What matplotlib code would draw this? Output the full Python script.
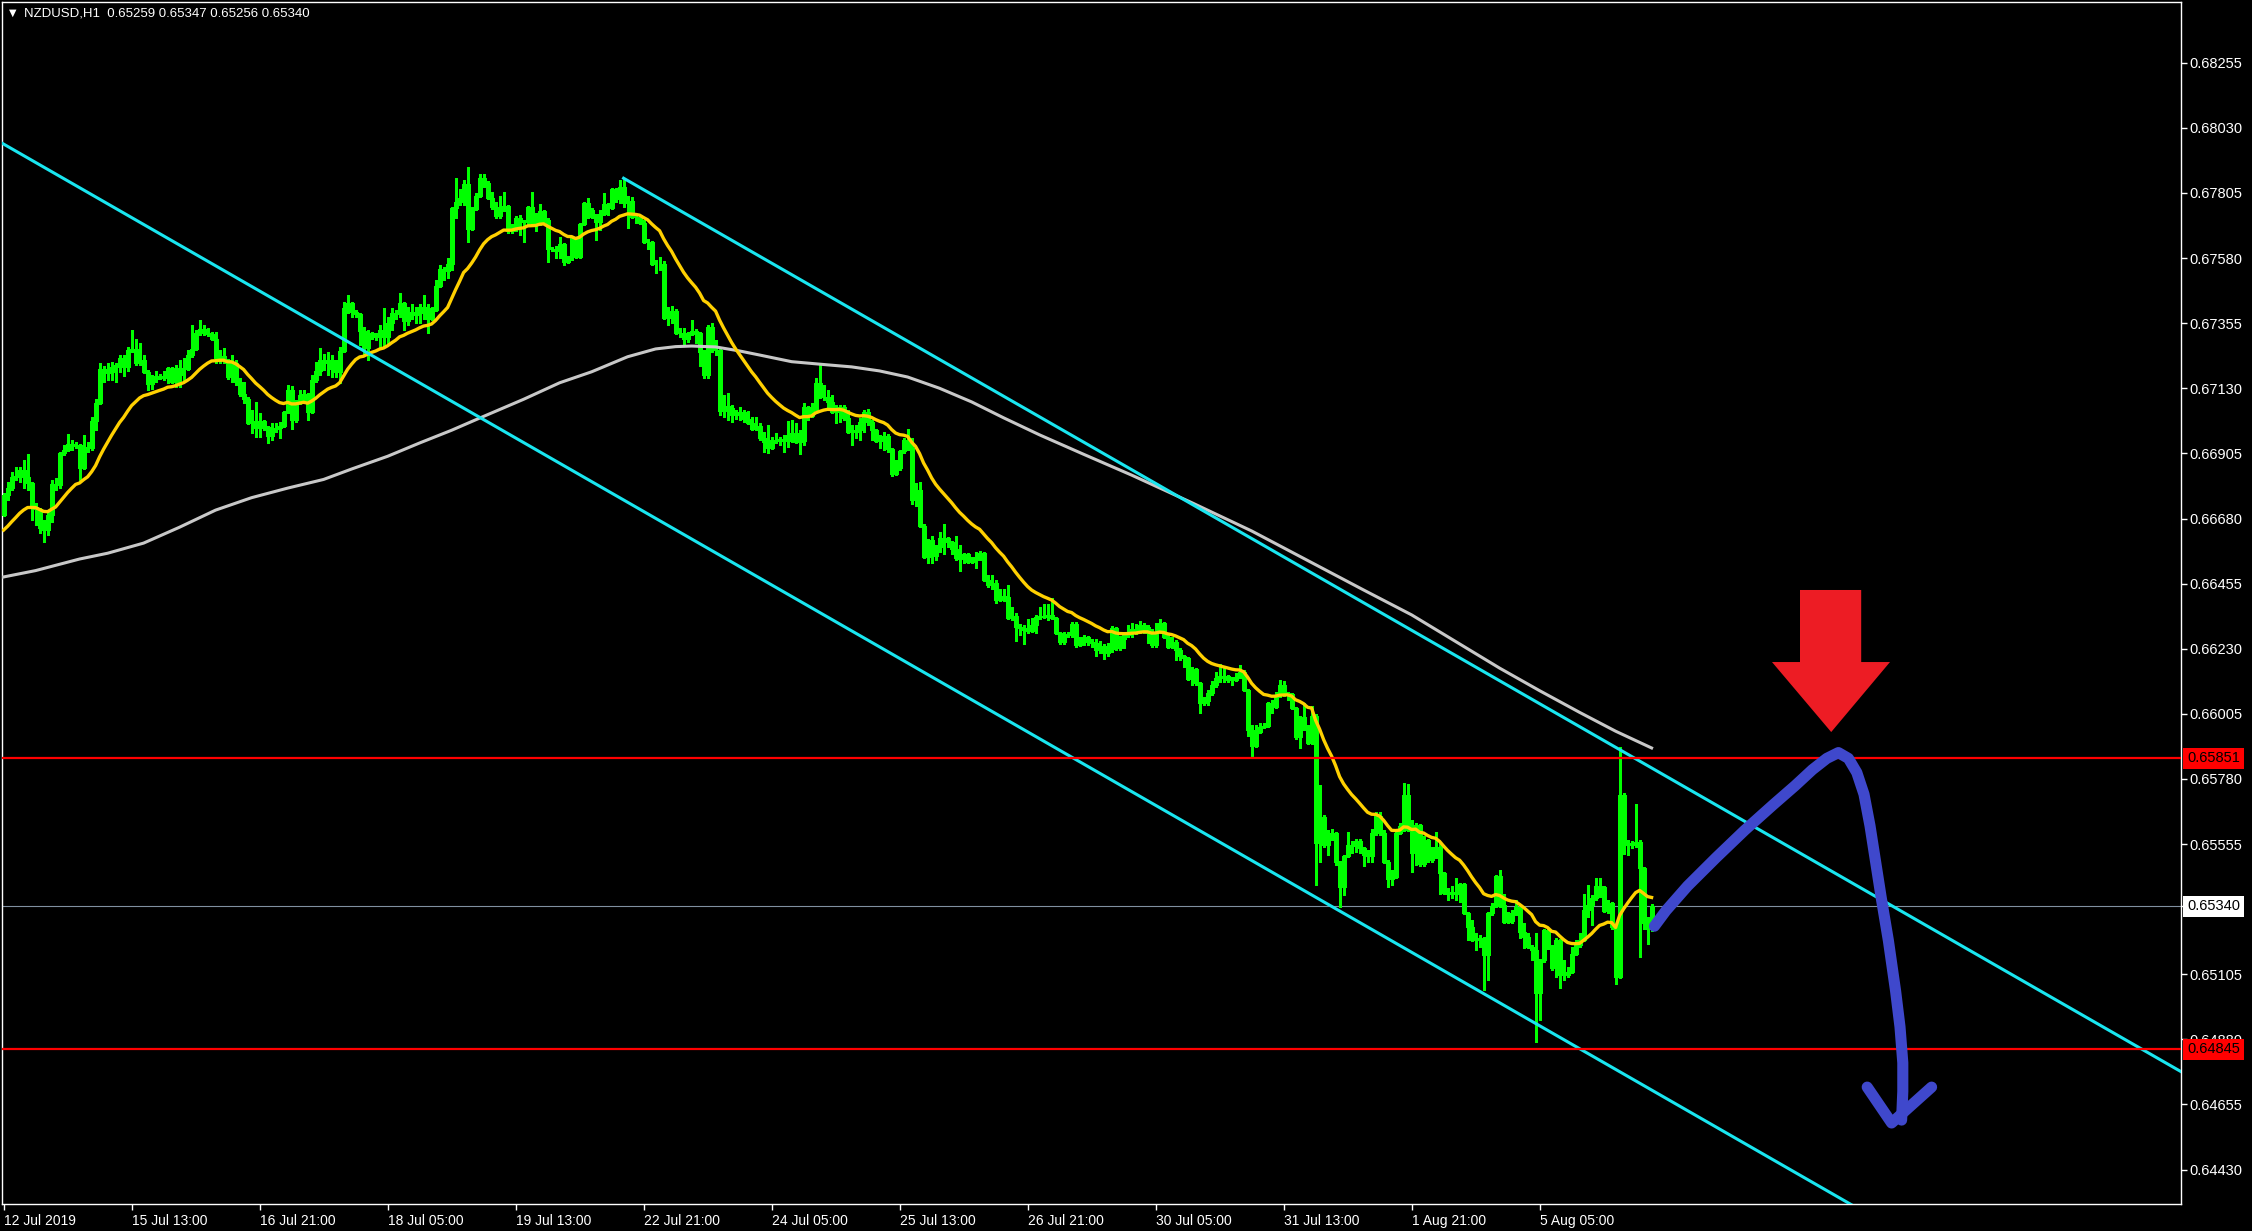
import numpy as np
import matplotlib.pyplot as plt
from matplotlib.patches import Polygon

# NZDUSD H1 candles, prices in points (1 point = 0.00001)
first_open = 66692
closes = [
    66761, 66784, 66822, 66827, 66848, 66824, 66804, 66721, 66712, 66646,
    66640, 66692, 66799, 66795, 66905, 66917, 66937, 66930, 66933, 66853,
    66928, 66922, 67017, 67078, 67195, 67184, 67187, 67205, 67209, 67236,
    67205, 67262, 67265, 67216, 67228, 67185, 67144, 67162, 67171, 67167,
    67172, 67199, 67152, 67175, 67199, 67198, 67244, 67265, 67322, 67334,
    67320, 67317, 67301, 67233, 67243, 67228, 67168, 67216, 67153, 67109,
    67092, 67009, 67018, 66992, 67017, 66997, 66965, 66988, 66994, 66999,
    67047, 67124, 67020, 67078, 67106, 67110, 67047, 67158, 67189, 67227,
    67216, 67227, 67195, 67187, 67259, 67408, 67426, 67392, 67386, 67328,
    67268, 67320, 67314, 67306, 67333, 67306, 67354, 67389, 67386, 67426,
    67363, 67394, 67383, 67389, 67412, 67406, 67371, 67400, 67485, 67541,
    67535, 67559, 67752, 67775, 67787, 67835, 67680, 67749, 67795, 67856,
    67839, 67787, 67758, 67724, 67749, 67760, 67672, 67680, 67718, 67706,
    67703, 67758, 67701, 67698, 67741, 67710, 67611, 67611, 67603, 67629,
    67565, 67583, 67649, 67583, 67698, 67769, 67746, 67723, 67706, 67732,
    67767, 67752, 67818, 67783, 67825, 67772, 67778, 67721, 67721, 67702,
    67637, 67637, 67558, 67560, 67561, 67372, 67389, 67398, 67320, 67322,
    67299, 67318, 67329, 67322, 67257, 67176, 67341, 67262, 67262, 67053,
    67069, 67063, 67038, 67046, 67049, 67023, 67009, 66990, 67001, 66957,
    66946, 66925, 66952, 66949, 66954, 66948, 66969, 66975, 66946, 66947,
    67064, 67034, 67058, 67150, 67101, 67099, 67084, 67049, 67053, 67067,
    67026, 66980, 66980, 66986, 67014, 67047, 67014, 66986, 66949, 66957,
    66966, 66919, 66833, 66853, 66914, 66951, 66922, 66744, 66780, 66655,
    66548, 66605, 66550, 66580, 66611, 66611, 66600, 66573, 66542, 66541,
    66557, 66531, 66536, 66546, 66562, 66469, 66450, 66456, 66400, 66412,
    66410, 66335, 66344, 66304, 66302, 66294, 66292, 66312, 66340, 66343,
    66340, 66348, 66337, 66283, 66254, 66281, 66277, 66317, 66243, 66262,
    66269, 66254, 66250, 66225, 66240, 66215, 66230, 66300, 66231, 66262,
    66277, 66286, 66297, 66289, 66311, 66306, 66286, 66243, 66289, 66318,
    66272, 66235, 66254, 66226, 66205, 66197, 66124, 66159, 66110, 66044,
    66051, 66076, 66105, 66128, 66136, 66136, 66122, 66122, 66131, 66151,
    66087, 65949, 65894, 65943, 65961, 65964, 66044, 66028, 66070, 66105,
    66076, 66074, 66024, 65924, 65993, 65961, 65903, 65998, 65560, 65650,
    65552, 65581, 65594, 65494, 65408, 65514, 65552, 65548, 65567, 65540,
    65517, 65514, 65592, 65652, 65592, 65494, 65433, 65440, 65594, 65617,
    65726, 65603, 65525, 65620, 65486, 65569, 65499, 65511, 65545, 65456,
    65387, 65382, 65390, 65384, 65416, 65317, 65269, 65225, 65225, 65231,
    65171, 65317, 65342, 65444, 65344, 65286, 65290, 65317, 65338, 65252,
    65232, 65200, 65188, 65041, 65154, 65257, 65200, 65125, 65223, 65102,
    65102, 65113, 65175, 65206, 65223, 65327, 65344, 65367, 65410, 65407,
    65324, 65352, 65269, 65096, 65724, 65557, 65551, 65557, 65563, 65471,
    65281, 65263, 65340,
]
highs = [
    66769, 66807, 66842, 66859, 66859, 66882, 66903, 66807, 66732, 66698,
    66675, 66704, 66813, 66819, 66911, 66934, 66972, 66953, 66945, 66905,
    66968, 66945, 67030, 67092, 67216, 67207, 67216, 67222, 67218, 67245,
    67245, 67274, 67331, 67299, 67288, 67245, 67193, 67176, 67190, 67179,
    67191, 67205, 67205, 67210, 67228, 67236, 67262, 67349, 67331, 67366,
    67349, 67337, 67326, 67326, 67262, 67268, 67228, 67245, 67228, 67164,
    67153, 67101, 67055, 67084, 67043, 67020, 66991, 67009, 67011, 67015,
    67049, 67141, 67138, 67089, 67124, 67124, 67112, 67176, 67222, 67268,
    67250, 67256, 67245, 67227, 67273, 67429, 67452, 67429, 67400, 67389,
    67343, 67331, 67325, 67320, 67348, 67406, 67377, 67406, 67400, 67458,
    67429, 67412, 67423, 67412, 67423, 67452, 67423, 67412, 67504, 67556,
    67550, 67580, 67755, 67856, 67818, 67850, 67894, 67758, 67804, 67871,
    67871, 67848, 67810, 67775, 67793, 67810, 67764, 67698, 67724, 67729,
    67712, 67760, 67810, 67735, 67767, 67744, 67718, 67620, 67622, 67652,
    67631, 67588, 67652, 67654, 67702, 67772, 67787, 67752, 67732, 67746,
    67806, 67772, 67820, 67821, 67850, 67856, 67795, 67790, 67729, 67729,
    67712, 67645, 67633, 67573, 67583, 67571, 67412, 67414, 67403, 67337,
    67337, 67326, 67366, 67334, 67322, 67262, 67349, 67355, 67297, 67262,
    67107, 67113, 67072, 67055, 67067, 67055, 67053, 67032, 67032, 67009,
    66980, 67003, 66961, 66977, 66963, 66969, 67018, 67021, 67011, 66986,
    67078, 67069, 67078, 67165, 67219, 67142, 67124, 67107, 67072, 67072,
    67072, 67055, 67003, 67003, 67026, 67055, 67060, 67020, 66986, 66968,
    66980, 66971, 66922, 66882, 66916, 66957, 66988, 66957, 66804, 66807,
    66661, 66608, 66619, 66588, 66634, 66661, 66617, 66600, 66619, 66588,
    66559, 66557, 66546, 66565, 66569, 66562, 66484, 66484, 66467, 66435,
    66435, 66450, 66375, 66352, 66317, 66312, 66331, 66335, 66346, 66375,
    66384, 66384, 66404, 66340, 66289, 66289, 66289, 66323, 66323, 66271,
    66277, 66266, 66262, 66262, 66258, 66245, 66250, 66310, 66300, 66275,
    66286, 66312, 66318, 66316, 66327, 66318, 66312, 66297, 66318, 66332,
    66324, 66283, 66272, 66260, 66231, 66208, 66193, 66166, 66162, 66113,
    66064, 66087, 66120, 66151, 66177, 66162, 66139, 66133, 66145, 66174,
    66157, 66090, 65966, 65966, 65972, 65975, 66047, 66053, 66082, 66122,
    66120, 66082, 66059, 66030, 65998, 66041, 65966, 66032, 66004, 65759,
    65655, 65604, 65606, 65598, 65498, 65517, 65598, 65567, 65571, 65571,
    65546, 65535, 65606, 65664, 65664, 65604, 65500, 65465, 65598, 65627,
    65765, 65764, 65638, 65626, 65574, 65582, 65571, 65545, 65597, 65559,
    65459, 65402, 65410, 65436, 65421, 65419, 65317, 65292, 65246, 65240,
    65234, 65320, 65350, 65448, 65465, 65384, 65321, 65327, 65361, 65315,
    65281, 65246, 65206, 65246, 65156, 65263, 65263, 65206, 65229, 65223,
    65154, 65131, 65200, 65223, 65246, 65384, 65413, 65378, 65436, 65436,
    65373, 65361, 65355, 65200, 65891, 65730, 65569, 65566, 65693, 65569,
    65474, 65304, 65347,
]
lows = [
    66688, 66744, 66778, 66813, 66807, 66784, 66778, 66675, 66657, 66629,
    66598, 66623, 66669, 66778, 66784, 66899, 66917, 66917, 66922, 66813,
    66894, 66911, 66917, 66986, 67089, 67153, 67159, 67159, 67153, 67187,
    67172, 67191, 67256, 67210, 67210, 67182, 67124, 67126, 67153, 67161,
    67159, 67149, 67147, 67135, 67133, 67159, 67193, 67239, 67262, 67314,
    67314, 67311, 67297, 67216, 67216, 67216, 67162, 67153, 67141, 67104,
    67078, 67006, 66974, 66963, 66963, 66986, 66940, 66951, 66980, 66957,
    66997, 67043, 66991, 67014, 67078, 67089, 67020, 67043, 67153, 67176,
    67193, 67176, 67170, 67170, 67149, 67256, 67389, 67377, 67377, 67279,
    67250, 67227, 67302, 67297, 67268, 67273, 67285, 67331, 67371, 67377,
    67331, 67348, 67371, 67354, 67354, 67371, 67320, 67368, 67400, 67481,
    67504, 67511, 67539, 67718, 67764, 67764, 67637, 67678, 67747, 67793,
    67827, 67784, 67749, 67718, 67718, 67741, 67668, 67666, 67672, 67660,
    67634, 67695, 67695, 67672, 67695, 67706, 67568, 67603, 67580, 67580,
    67557, 67562, 67574, 67580, 67585, 67694, 67717, 67721, 67643, 67677,
    67729, 67729, 67749, 67775, 67769, 67758, 67683, 67717, 67700, 67698,
    67633, 67610, 67556, 67527, 67539, 67368, 67349, 67355, 67318, 67308,
    67280, 67291, 67314, 67285, 67207, 67164, 67164, 67257, 67245, 67038,
    67032, 67021, 67015, 67023, 67021, 67015, 67007, 66986, 66986, 66952,
    66911, 66905, 66923, 66940, 66934, 66911, 66926, 66946, 66940, 66903,
    66934, 67021, 67032, 67055, 67096, 67090, 67061, 67044, 67009, 67015,
    67021, 66977, 66934, 66957, 66951, 66980, 67003, 66951, 66945, 66922,
    66916, 66911, 66827, 66833, 66847, 66905, 66916, 66730, 66723, 66654,
    66542, 66525, 66527, 66536, 66565, 66559, 66582, 66559, 66536, 66499,
    66525, 66527, 66525, 66508, 66536, 66467, 66442, 66438, 66389, 66398,
    66396, 66331, 66329, 66258, 66277, 66246, 66283, 66289, 66283, 66331,
    66335, 66329, 66331, 66281, 66248, 66248, 66271, 66271, 66237, 66243,
    66243, 66243, 66235, 66205, 66215, 66195, 66205, 66220, 66225, 66225,
    66231, 66272, 66272, 66281, 66292, 66283, 66249, 66237, 66237, 66283,
    66266, 66231, 66231, 66191, 66191, 66166, 66122, 66105, 66105, 66009,
    66036, 66036, 66070, 66099, 66116, 66116, 66116, 66105, 66120, 66128,
    66085, 65928, 65857, 65892, 65938, 65955, 65963, 66009, 66024, 66064,
    66067, 66053, 66021, 65917, 65886, 65949, 65901, 65901, 65414, 65494,
    65546, 65517, 65569, 65483, 65339, 65379, 65511, 65523, 65529, 65523,
    65479, 65494, 65494, 65586, 65586, 65488, 65408, 65414, 65465, 65601,
    65600, 65601, 65459, 65482, 65479, 65479, 65494, 65494, 65509, 65384,
    65384, 65363, 65367, 65361, 65355, 65315, 65223, 65223, 65188, 65200,
    65050, 65085, 65309, 65338, 65338, 65283, 65281, 65283, 65309, 65229,
    65194, 65194, 65154, 64872, 64947, 65148, 65191, 65119, 65096, 65056,
    65085, 65096, 65108, 65171, 65200, 65223, 65304, 65275, 65363, 65373,
    65321, 65315, 65263, 65071, 65096, 65520, 65517, 65543, 65545, 65165,
    65263, 65209, 65256,
]

# fast moving average (exponential), seeded with the value read at the first bar
ma_fast_period = 21
ma_fast_start = 66640

# slow moving average (bar index, points)
ma_slow_bars = [0, 8, 19, 26, 35, 44, 53, 62, 71, 80, 87, 96, 104, 112, 119,
                130, 139, 147, 156, 163, 168, 172, 178, 184, 189, 197, 206, 212,
                219, 226, 234, 242, 250, 259, 270, 282, 297, 312, 326, 340, 352,
                363, 374, 384, 394, 403, 412]
ma_slow_vals = [66478, 66500, 66540, 66560, 66595, 66650, 66709, 66752, 66785,
                66815, 66851, 66895, 66941, 66985, 67027, 67092, 67149, 67187,
                67239, 67266, 67274, 67276, 67273, 67259, 67245, 67222, 67211,
                67204, 67190, 67169, 67130, 67083, 67028, 66969, 66902, 66830,
                66735, 66637, 66535, 66433, 66347, 66255, 66163, 66085, 66010,
                65945, 65887]

time_ticks = [0, 32, 64, 96, 128, 160, 192, 224, 256, 288, 320, 352, 384]
time_labels = ['12 Jul 2019', '15 Jul 13:00', '16 Jul 21:00', '18 Jul 05:00',
               '19 Jul 13:00', '22 Jul 21:00', '24 Jul 05:00', '25 Jul 13:00',
               '26 Jul 21:00', '30 Jul 05:00', '31 Jul 13:00', '1 Aug 21:00',
               '5 Aug 05:00']
price_ticks = [0.68255, 0.68030, 0.67805, 0.67580, 0.67355, 0.67130, 0.66905,
               0.66680, 0.66455, 0.66230, 0.66005, 0.65780, 0.65555, 0.65340,
               0.65105, 0.64880, 0.64655, 0.64430]

# channel anchors (bar, price)
upper_chan = [(155, 0.67856), (412, 0.65818)]
lower_chan = [(0, 0.67974), (383, 0.64935)]
resistance = 0.65851
support = 0.64845
last_price = 0.65340
title_text = 'NZDUSD,H1  0.65259 0.65347 0.65256 0.65340'

# hand drawn annotations (bar, price)
arrow_bars = [449.1, 464.4, 464.4, 471.6, 456.9, 442.1, 449.1]
arrow_prices = [0.66433, 0.66433, 0.66184, 0.66184, 0.65942, 0.66184, 0.66184]
path_bars = [412.7, 415.6, 421.0, 428.2, 435.3, 442.5, 447.9, 452.2, 455.8,
             458.7, 461.2, 463.3, 465.1, 466.6, 468.0, 469.4, 471.2, 473.0,
             474.1, 474.8, 474.8, 474.5]
path_prices = [0.65271, 0.65325, 0.65410, 0.65509, 0.65603, 0.65692, 0.65757,
               0.65812, 0.65851, 0.65871, 0.65851, 0.65802, 0.65727, 0.65618,
               0.65494, 0.65370, 0.65221, 0.65047, 0.64923, 0.64799, 0.64700,
               0.64601]
head_bars = [465.9, 472.0, 482.0]
head_prices = [0.64715, 0.64591, 0.64715]

# ---------------------------------------------------------------------------
c = np.array(closes) / 1e5
h = np.array(highs) / 1e5
l = np.array(lows) / 1e5
o = np.concatenate([[first_open / 1e5], c[:-1]])
h = np.maximum(h, np.maximum(o, c))
l = np.minimum(l, np.minimum(o, c))
x = np.arange(len(c))

alpha = 2.0 / (ma_fast_period + 1)
ema = np.empty(len(c))
ema[0] = ma_fast_start / 1e5
for i in range(1, len(c)):
    ema[i] = ema[i - 1] + alpha * (c[i] - ema[i - 1])

W, H = 2252, 1231
plt.rcParams['font.family'] = ['Liberation Sans', 'DejaVu Sans']
fig = plt.figure(figsize=(W / 100, H / 100), dpi=100, facecolor='black')
ax = fig.add_axes([2 / W, 27 / H, 2179 / W, 1202 / H])
ax.set_facecolor('black')
ax.set_xlim(-0.4, 544.35)
ax.set_ylim(0.64311, 0.68465)

green = '#00FF00'
ax.vlines(x, l, h, color=green, lw=0.75, antialiased=False, zorder=2)
bull = c >= o
face = np.where(bull, 'black', 'white')
ax.bar(x, np.abs(c - o), bottom=np.minimum(o, c), width=0.5, color=face,
       edgecolor=green, linewidth=0.75, antialiased=False, zorder=3)

ax.plot(np.array(ma_slow_bars), np.array(ma_slow_vals) / 1e5, color='#C8C8C8',
        lw=2.2, solid_joinstyle='round', zorder=4)
ax.plot(x, ema, color='#FFD000', lw=2.4, zorder=5)

# channel
xr = 544.35
(ub0, up0), (ub1, up1) = upper_chan
slope = (up1 - up0) / (ub1 - ub0)
ax.plot([ub0, xr], [up0, up0 + slope * (xr - ub0)], color='#19E6F0', lw=2.2, zorder=6)
(lb0, lp0), (lb1, lp1) = lower_chan
slope_l = (lp1 - lp0) / (lb1 - lb0)
ax.plot([-1, xr], [lp0 + slope_l * (-1 - lb0), lp0 + slope_l * (xr - lb0)],
        color='#19E6F0', lw=2.2, zorder=6)

ax.axhline(resistance, color='#FF0000', lw=1.6, zorder=6)
ax.axhline(support, color='#FF0000', lw=1.6, zorder=6)
ax.axhline(last_price, color='#8090A0', lw=0.8, zorder=1)

# axes styling
for s in ax.spines.values():
    s.set_color('white')
    s.set_linewidth(1)
ax.yaxis.tick_right()
ax.set_yticks(price_ticks)
ax.set_yticklabels([f'{p:.5f}' for p in price_ticks])
ax.tick_params(axis='y', colors='white', length=4, width=1, pad=2, labelsize=10.5)
ax.set_xticks(time_ticks)
ax.set_xticklabels(time_labels)
ax.tick_params(axis='x', colors='white', length=4, width=1, pad=3, labelsize=10)
for lbl in ax.get_xticklabels():
    lbl.set_ha('left')

tag_kw = dict(transform=ax.get_yaxis_transform(), va='center', ha='left',
              fontsize=10.5, clip_on=False, zorder=10)
ax.text(1.0028, resistance, f'{resistance:.5f}', color='black',
        bbox=dict(boxstyle='square,pad=0.25', fc='#FF0000', ec='none'), **tag_kw)
ax.text(1.0028, support, f'{support:.5f}', color='black',
        bbox=dict(boxstyle='square,pad=0.25', fc='#FF0000', ec='none'), **tag_kw)
ax.text(1.0028, last_price, f'{last_price:.5f}', color='black',
        bbox=dict(boxstyle='square,pad=0.25', fc='white', ec='none'), **tag_kw)

# title
fig.text(9 / W, 1 - 13 / H, '\u25bc', color='white', fontsize=7, va='center',
         family=['DejaVu Sans'])
fig.text(24 / W, 1 - 13 / H, title_text, color='white', fontsize=9.5, va='center')

# hand drawn arrow and path
ax.add_patch(Polygon(list(zip(arrow_bars, arrow_prices)), closed=True,
                     fc='#ED1C24', ec='none', zorder=20, clip_on=False))
ax.plot(path_bars, path_prices, color='#3F48CC', lw=8, solid_capstyle='round',
        solid_joinstyle='round', zorder=21)
ax.plot(head_bars, head_prices, color='#3F48CC', lw=8, solid_capstyle='round',
        solid_joinstyle='round', zorder=21)

fig.savefig('out.png', dpi=100, facecolor='black')
